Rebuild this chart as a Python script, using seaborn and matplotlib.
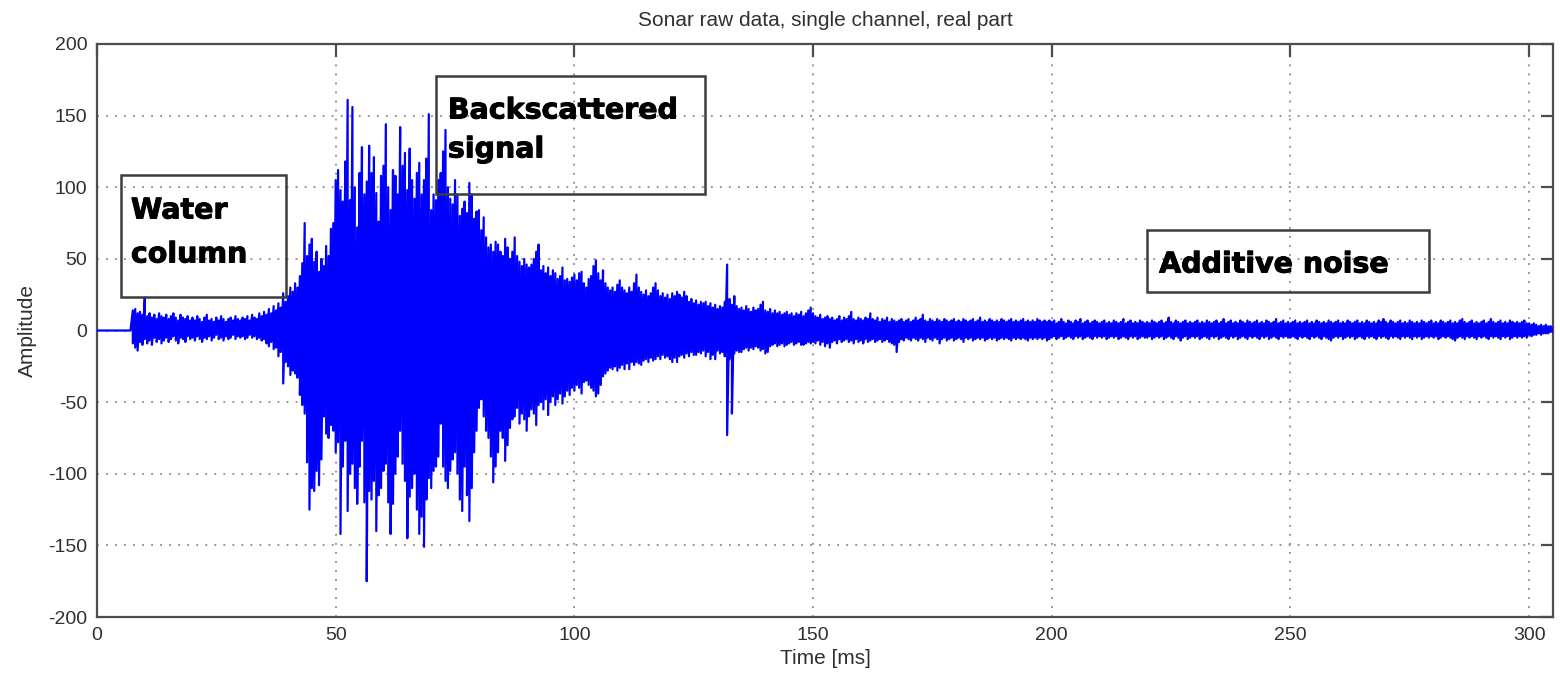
import numpy as np
import pandas as pd
import matplotlib
matplotlib.use("Agg")
import matplotlib.pyplot as plt
from matplotlib.patches import Rectangle
import matplotlib.patheffects as pe
import seaborn as sns

# ---------------- data ----------------
# sampling grid: 0 .. 305 ms in 0.5 ms bins; each bin has an upper and lower
# excursion of the raw sonar trace (amplitude units)
t_start, t_stop, t_step = 0.0, 305.0, 0.5

upper_0_50 = [
    0, 0, 0, 0, 0, 0, 0, 0, 0, 0, 0, 0, 0, 0, 0, 14, 15, 12, 13, 11,
    23, 10, 12, 9, 11, 8, 12, 10, 9, 11, 8, 10, 12, 9, 7, 11, 9, 8, 10, 7,
    9, 7, 10, 8, 6, 9, 11, 7, 8, 6, 9, 7, 10, 8, 6, 8, 9, 7, 10, 8,
    7, 9, 8, 10, 7, 11, 9, 8, 12, 10, 13, 11, 15, 12, 17, 14, 19, 16, 26, 20,
    24, 30, 27, 33, 30, 38, 47, 75, 52, 60, 64, 48, 55, 41, 50, 45, 59, 52, 71, 75,
]
lower_0_50 = [
    0, 0, 0, 0, 0, 0, 0, 0, 0, 0, 0, 0, 0, 0, 0, -9, -12, -14, -8, -10,
    -6, -9, -7, -10, -5, -8, -6, -9, -7, -5, -8, -6, -4, -7, -9, -5, -6, -8, -4, -6,
    -5, -7, -4, -6, -8, -5, -6, -4, -7, -5, -3, -6, -5, -7, -4, -6, -5, -3, -6, -4,
    -5, -4, -6, -5, -3, -5, -4, -6, -5, -7, -6, -9, -11, -8, -13, -12, -18, -15, -37, -22,
    -25, -31, -28, -30, -33, -45, -52, -58, -92, -125, -110, -112, -98, -108, -90, -60, -72, -75, -66, -70,
]

upper_50_100 = [
    105, 112, 98, 90, 118, 161, 91, 156, 100, 72, 110, 128, 95, 104, 129, 110, 121, 96, 76, 108,
    115, 144, 100, 84, 112, 108, 95, 142, 115, 124, 98, 127, 105, 92, 110, 117, 95, 105, 120, 151,
    84, 95, 91, 105, 110, 125, 140, 100, 92, 88, 105, 95, 80, 85, 90, 82, 103, 95, 78, 83,
    84, 70, 79, 65, 58, 60, 55, 62, 60, 55, 52, 64, 58, 50, 55, 65, 52, 48, 45, 50,
    46, 44, 46, 50, 55, 60, 42, 45, 40, 44, 38, 42, 40, 36, 38, 44, 35, 36, 34, 37,
]
lower_50_100 = [
    -85, -78, -142, -95, -77, -126, -100, -93, -110, -121, -95, -77, -120, -175, -112, -118, -105, -140, -115, -110,
    -98, -93, -120, -142, -121, -100, -88, -70, -93, -105, -145, -116, -110, -100, -125, -142, -130, -151, -118, -103,
    -110, -98, -95, -88, -65, -95, -105, -110, -98, -90, -85, -100, -118, -126, -95, -115, -133, -110, -85, -70,
    -54, -48, -60, -70, -75, -88, -106, -95, -85, -70, -75, -91, -80, -68, -62, -60, -54, -65, -58, -62,
    -70, -60, -55, -58, -66, -52, -50, -55, -48, -59, -50, -46, -52, -48, -44, -51, -46, -42, -45, -40,
]

upper_100_150 = [
    39, 35, 40, 41, 33, 30, 36, 38, 45, 49, 40, 35, 42, 33, 30, 28, 30, 27, 32, 35,
    30, 28, 26, 30, 27, 33, 39, 30, 27, 25, 28, 24, 26, 30, 33, 28, 24, 26, 23, 25,
    22, 26, 24, 27, 25, 23, 27, 24, 20, 22, 19, 21, 18, 20, 19, 20, 17, 19, 16, 18,
    15, 17, 16, 20, 46, 22, 18, 24, 17, 15, 16, 14, 17, 15, 13, 16, 14, 15, 18, 20,
    14, 13, 15, 12, 14, 12, 13, 11, 12, 13, 11, 12, 10, 12, 11, 13, 10, 12, 14, 16,
]
lower_100_150 = [
    -42, -38, -40, -44, -36, -35, -38, -40, -42, -46, -44, -38, -32, -30, -28, -26, -27, -25, -28, -26,
    -24, -27, -23, -27, -22, -24, -22, -23, -24, -21, -20, -22, -19, -21, -20, -18, -20, -17, -19, -18,
    -20, -22, -19, -22, -18, -17, -19, -16, -18, -15, -17, -17, -15, -16, -14, -18, -15, -20, -17, -20,
    -14, -16, -15, -18, -73, -20, -58, -16, -14, -15, -15, -13, -12, -14, -12, -13, -11, -12, -14, -13,
    -16, -15, -11, -10, -9, -11, -10, -9, -11, -10, -9, -8, -10, -9, -8, -10, -10, -9, -8, -9,
]

upper_150_200 = [
    12, 10, 9, 11, 8, 9, 10, 8, 9, 7, 8, 10, 7, 9, 8, 10, 13, 8, 7, 9,
    8, 7, 9, 8, 12, 8, 7, 9, 6, 8, 7, 9, 6, 8, 7, 6, 7, 8, 6, 7,
    8, 6, 7, 9, 7, 8, 11, 7, 6, 8, 7, 6, 8, 7, 6, 8, 7, 6, 7, 8,
    6, 7, 6, 8, 7, 6, 7, 8, 6, 7, 9, 6, 7, 6, 8, 7, 6, 7, 6, 8,
    7, 6, 7, 8, 6, 7, 6, 7, 8, 6, 7, 6, 7, 6, 8, 7, 6, 7, 6, 7,
]
lower_150_200 = [
    -8, -9, -7, -10, -8, -11, -9, -12, -8, -7, -9, -6, -8, -7, -6, -8, -7, -9, -6, -8,
    -7, -9, -6, -8, -7, -6, -8, -7, -6, -8, -7, -6, -8, -9, -10, -15, -8, -6, -7, -5,
    -6, -7, -5, -6, -7, -5, -6, -8, -5, -6, -7, -5, -6, -9, -6, -5, -7, -6, -5, -7,
    -6, -5, -6, -8, -5, -6, -5, -7, -6, -5, -6, -5, -7, -6, -5, -6, -5, -7, -6, -5,
    -6, -5, -6, -7, -5, -6, -5, -6, -5, -6, -7, -5, -6, -5, -6, -5, -6, -5, -7, -6,
]

upper_200_250 = [
    6, 7, 5, 6, 8, 6, 5, 7, 6, 5, 7, 6, 8, 5, 6, 7, 5, 6, 7, 6,
    5, 6, 7, 5, 6, 5, 7, 6, 5, 6, 8, 5, 6, 7, 5, 6, 5, 7, 6, 5,
    6, 5, 7, 6, 5, 6, 7, 5, 6, 9, 6, 5, 7, 6, 5, 6, 7, 5, 6, 5,
    6, 7, 5, 6, 5, 7, 6, 5, 6, 7, 5, 6, 8, 5, 6, 7, 5, 6, 5, 7,
    6, 5, 7, 6, 5, 6, 7, 5, 6, 5, 7, 6, 5, 6, 8, 5, 6, 7, 5, 6,
]
lower_200_250 = [
    -5, -4, -6, -5, -4, -6, -5, -4, -5, -6, -4, -5, -4, -6, -5, -4, -5, -6, -4, -5,
    -4, -5, -4, -6, -5, -4, -5, -4, -6, -5, -4, -5, -6, -4, -5, -4, -6, -5, -4, -5,
    -5, -4, -6, -5, -4, -5, -4, -6, -5, -4, -5, -6, -4, -5, -7, -5, -4, -6, -5, -4,
    -5, -4, -6, -5, -4, -5, -6, -4, -5, -4, -6, -5, -4, -5, -6, -4, -5, -4, -6, -5,
    -4, -5, -6, -4, -5, -4, -5, -6, -4, -5, -4, -6, -5, -4, -5, -6, -4, -5, -4, -5,
]

upper_250_305 = [
    5, 6, 7, 5, 6, 5, 6, 7, 5, 6, 5, 7, 6, 5, 6, 5, 7, 6, 5, 6,
    7, 5, 6, 5, 7, 6, 5, 6, 7, 5, 6, 5, 7, 6, 5, 6, 5, 7, 6, 8,
    6, 5, 7, 6, 5, 6, 7, 5, 6, 5, 7, 6, 5, 6, 5, 7, 6, 5, 6, 7,
    5, 6, 5, 7, 6, 5, 6, 7, 5, 6, 5, 7, 8, 6, 5, 6, 7, 5, 6, 5,
    6, 7, 5, 6, 8, 6, 5, 6, 7, 5, 6, 5, 7, 6, 5, 6, 5, 6, 7, 5,
    5, 4, 5, 4, 3, 4, 3, 4, 3, 3, 2,
]
lower_250_305 = [
    -5, -4, -5, -6, -4, -5, -4, -5, -6, -4, -5, -4, -5, -6, -4, -5, -6, -7, -5, -4,
    -5, -4, -6, -5, -4, -5, -4, -6, -5, -4, -5, -6, -4, -5, -4, -5, -6, -4, -5, -4,
    -5, -6, -4, -5, -4, -5, -6, -4, -5, -4, -5, -6, -4, -5, -4, -6, -5, -4, -5, -4,
    -5, -4, -6, -5, -4, -5, -4, -5, -6, -7, -5, -4, -5, -6, -4, -5, -4, -5, -6, -4,
    -5, -4, -5, -6, -4, -5, -4, -5, -6, -4, -5, -4, -6, -5, -4, -5, -4, -5, -4, -5,
    -3, -4, -3, -3, -2, -3, -2, -2, -2, -1, -1,
]

x_ticks = [0, 50, 100, 150, 200, 250, 300]
y_ticks = [-200, -150, -100, -50, 0, 50, 100, 150, 200]

title_text = "Sonar raw data, single channel, real part"
x_label = "Time [ms]"
y_label = "Amplitude"

# ---------------- assemble the trace ----------------
upper = np.array(upper_0_50 + upper_50_100 + upper_100_150 + upper_150_200
                 + upper_200_250 + upper_250_305, dtype=float)
lower = np.array(lower_0_50 + lower_50_100 + lower_100_150 + lower_150_200
                 + lower_200_250 + lower_250_305, dtype=float)
time_ms = np.arange(t_start, t_stop + t_step / 2, t_step)
assert len(upper) == len(lower) == len(time_ms), (len(upper), len(lower), len(time_ms))

trace = pd.DataFrame({
    "Time [ms]": np.repeat(time_ms, 2),
    "Amplitude": np.column_stack([upper, lower]).ravel(),
})

# ---------------- style ----------------
sns.set_theme(style="white")
plt.rcParams["font.family"] = ["Liberation Sans", "DejaVu Sans"]
plt.rcParams["axes.unicode_minus"] = False

spine_c = "#4d4d4d"
text_c = "#303030"
fig = plt.figure(figsize=(15.6, 6.83), dpi=100)
ax = fig.add_axes([0.0622, 0.0966, 0.9333, 0.839])

sns.lineplot(data=trace, x="Time [ms]", y="Amplitude", sort=False,
             estimator=None, color="#0000ff", linewidth=1.6, ax=ax, zorder=3)

ax.set_xlim(0, 305)
ax.set_ylim(-200, 200)
ax.set_xticks(x_ticks)
ax.set_yticks(y_ticks)
ax.grid(True, linestyle=(0, (1, 4)), color="#8a8a8a", linewidth=1.3)
ax.set_axisbelow(True)

for s in ax.spines.values():
    s.set_visible(True)
    s.set_color(spine_c)
    s.set_linewidth(1.6)
ax.tick_params(direction="in", top=True, right=True, length=9, width=1.6,
               color=spine_c, labelsize=14, labelcolor=text_c, pad=7)

ax.set_title(title_text, fontsize=15, color=text_c, pad=13)
ax.set_xlabel(x_label, fontsize=15, color=text_c, labelpad=4)
ax.set_ylabel(y_label, fontsize=15, color=text_c, labelpad=8)

# ---------------- annotation boxes ----------------
box_edge = "#3c3c3c"
boxes = [
    ((5.0, 23.7), 34.6, 84.5),
    ((71.0, 95.6), 56.3, 82.4),
    ((220.0, 27.2), 59.0, 43.3),
]
for (x0, y0), w, h in boxes:
    ax.add_patch(Rectangle((x0, y0), w, h, fill=False, edgecolor=box_edge,
                           linewidth=1.8, zorder=6))

labels = [
    (7.1, 78.2, "Water"),
    (7.1, 47.5, "column"),
    (73.5, 148.0, "Backscattered"),
    (73.5, 120.8, "signal"),
    (222.5, 40.5, "Additive noise"),
]
for x, y, s in labels:
    ax.text(x, y, s, fontsize=20.5, fontweight="bold", family="DejaVu Sans",
            color="black", va="baseline", ha="left", zorder=7,
            path_effects=[pe.withStroke(linewidth=0.7, foreground="black")])

fig.savefig("out.png", dpi=100)
